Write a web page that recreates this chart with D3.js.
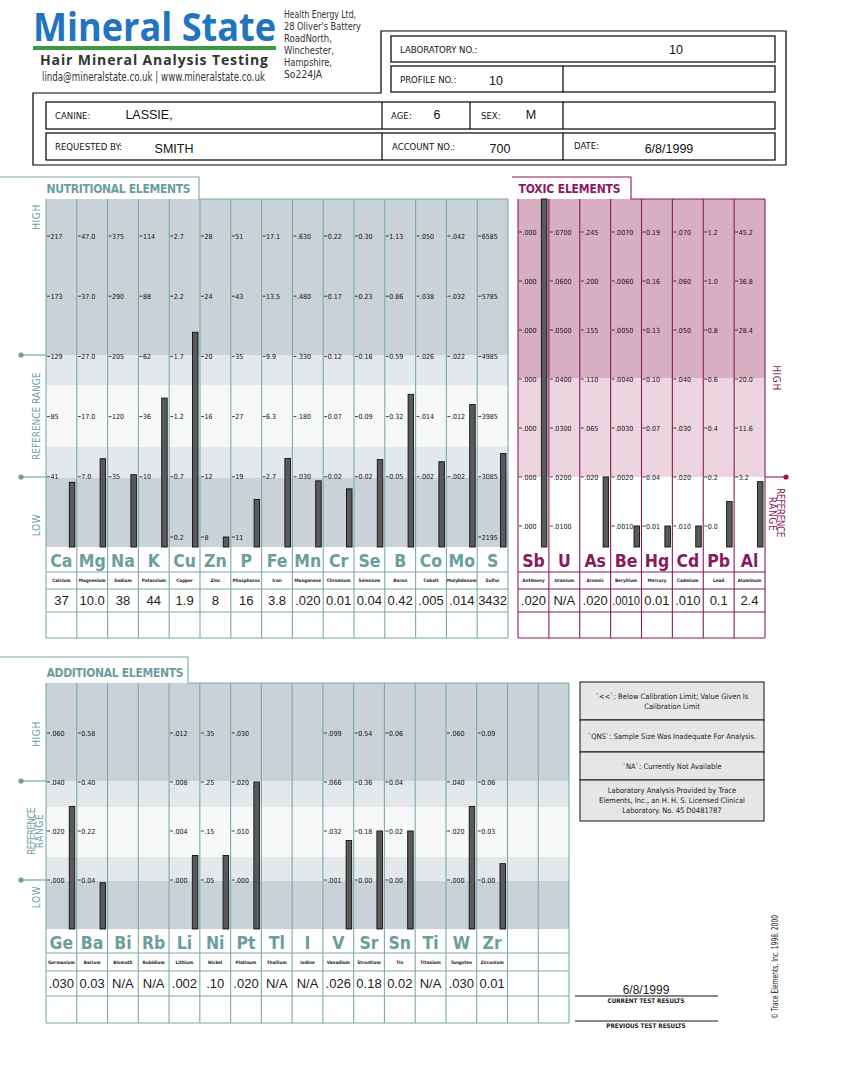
<!DOCTYPE html>
<html lang="en">
<head>
<meta charset="utf-8">
<title>Hair Mineral Analysis</title>
<script src="https://d3js.org/d3.v7.min.js"></script>
<style>
  body { margin: 0; background: #fff; }
  text { font-family: "Liberation Sans Narrow", "DejaVu Sans Condensed", "Liberation Sans", sans-serif; }
</style>
</head>
<body>
<script>
'use strict';

// ---- data ----
var nutriSymbols = ["Ca","Mg","Na","K","Cu","Zn","P","Fe","Mn","Cr","Se","B","Co","Mo","S"];
var nutriNames = ["Calcium","Magnesium","Sodium","Potassium","Copper","Zinc","Phosphorus","Iron",
                  "Manganese","Chromium","Selenium","Boron","Cobalt","Molybdenum","Sulfur"];
var nutriValues = [37, 10.0, 38, 44, 1.9, 8, 16, 3.8, 0.020, 0.01, 0.04, 0.42, 0.005, 0.014, 3432];
var nutriValueLabels = ["37","10.0","38","44","1.9","8","16","3.8",".020","0.01","0.04","0.42",".005",".014","3432"];
// tick labels per column, lowest row first, null = no tick
var nutriTicks = [
  [null,"41","85","129","173","217"],
  [null,"7.0","17.0","27.0","37.0","47.0"],
  [null,"35","120","205","290","375"],
  [null,"10","36","62","88","114"],
  ["0.2","0.7","1.2","1.7","2.2","2.7"],
  ["8","12","16","20","24","28"],
  ["11","19","27","35","43","51"],
  [null,"2.7","6.3","9.9","13.5","17.1"],
  [null,".030",".180",".330",".480",".630"],
  [null,"0.02","0.07","0.12","0.17","0.22"],
  [null,"0.02","0.09","0.16","0.23","0.30"],
  [null,"0.05","0.32","0.59","0.86","1.13"],
  [null,".002",".014",".026",".038",".050"],
  [null,".002",".012",".022",".032",".042"],
  ["2195","3085","3985","4985","5785","6585"]
];

var toxicSymbols = ["Sb","U","As","Be","Hg","Cd","Pb","Al"];
var toxicNames = ["Antimony","Uranium","Arsenic","Beryllium","Mercury","Cadmium","Lead","Aluminum"];
var toxicValues = [0.020, null, 0.020, 0.0010, 0.01, 0.010, 0.1, 2.4];
var toxicValueLabels = [".020","N/A",".020",".0010","0.01",".010","0.1","2.4"];
var toxicTicks = [
  [".000",".000",".000",".000",".000",".000",".000"],
  [".0100",".0200",".0300",".0400",".0500",".0600",".0700"],
  [null,".020",".065",".110",".155",".200",".245"],
  [".0010",".0020",".0030",".0040",".0050",".0060",".0070"],
  ["0.01","0.04","0.07","0.10","0.13","0.16","0.19"],
  [".010",".020",".030",".040",".050",".060",".070"],
  ["0.0","0.2","0.4","0.6","0.8","1.0","1.2"],
  [null,"3.2","11.6","20.0","28.4","36.8","45.2"]
];
// Sb labels are unreadable (".000"); its scale tops out below the result
var sbScaleValues = [0.001, 0.002, 0.003, 0.004, 0.005, 0.006, 0.007];

var addSymbols = ["Ge","Ba","Bi","Rb","Li","Ni","Pt","Tl","I","V","Sr","Sn","Ti","W","Zr","",""];
var addNames = ["Germanium","Barium","Bismuth","Rubidium","Lithium","Nickel","Platinum","Thallium",
                "Iodine","Vanadium","Strontium","Tin","Titanium","Tungsten","Zirconium","",""];
var addValues = [0.030, 0.03, null, null, 0.002, 0.10, 0.020, null, null, 0.026, 0.18, 0.02, null, 0.030, 0.01, null, null];
var addValueLabels = [".030","0.03","N/A","N/A",".002",".10",".020","N/A","N/A",".026","0.18","0.02","N/A",".030","0.01","",""];
var addTicks = [
  [".000",".020",".040",".060"],
  ["0.04","0.22","0.40","0.58"],
  null, null,
  [".000",".004",".008",".012"],
  [".05",".15",".25",".35"],
  [".000",".010",".020",".030"],
  null, null,
  [".001",".032",".066",".099"],
  ["0.00","0.18","0.36","0.54"],
  ["0.00","0.02","0.04","0.06"],
  null,
  [".000",".020",".040",".060"],
  ["0.00","0.03","0.06","0.09"],
  null, null
];

var legendNotes = [
  ["`<<`: Below Calibration Limit; Value Given Is", "Calibration Limit"],
  ["`QNS`: Sample Size Was Inadequate For Analysis."],
  ["`NA`: Currently Not Available"],
  ["Laboratory Analysis Provided by Trace", "Elements, Inc., an H. H. S. Licensed Clinical", "Laboratory.     No. 45 D0481787"]
];

var teal = "#6c9e9c", tealLine = "#7eaaa7";
var plum = "#8a1a5c";

var svg = d3.select("body").append("svg")
    .attr("width", 842).attr("height", 1089);
svg.append("rect").attr("width", 842).attr("height", 1089).attr("fill", "#fff");

// ---- header ----
svg.append("text").attr("x", 33).attr("y", 41).text("Mineral State")
    .style("font-family", "'Open Sans', sans-serif").attr("font-weight", 700)
    .attr("font-size", 40).attr("fill", "#2373c3")
    .attr("textLength", 243).attr("lengthAdjust", "spacingAndGlyphs");
svg.append("rect").attr("x", 33).attr("y", 46).attr("width", 243).attr("height", 4).attr("fill", "#3b9a3f");
svg.append("text").attr("x", 40).attr("y", 65).text("Hair Mineral Analysis Testing")
    .style("font-family", "'Open Sans', sans-serif").attr("font-weight", 700)
    .attr("font-size", 14).attr("fill", "#333")
    .attr("textLength", 228).attr("lengthAdjust", "spacing");
svg.append("text").attr("x", 42).attr("y", 81).text("linda@mineralstate.co.uk | www.mineralstate.co.uk")
    .attr("font-size", 12).attr("fill", "#333")
    .attr("textLength", 223).attr("lengthAdjust", "spacingAndGlyphs");
var address = ["Health Energy Ltd,","28 Oliver's Battery","RoadNorth,","Winchester,","Hampshire,","So224JA"];
var addrWidth = [72, 77, 48, 50, 48, 38];
svg.append("text").attr("font-size", 9.8).attr("fill", "#333")
  .selectAll("tspan").data(address).enter().append("tspan")
    .attr("x", 284)
    .attr("y", function(d, i) { return 17.5 + i * 12.1; })
    .attr("textLength", function(d, i) { return addrWidth[i]; })
    .attr("lengthAdjust", "spacingAndGlyphs")
    .text(function(d) { return d; });

// ---- patient form ----
svg.append("path").attr("d", "M381,31H786V165H33V93H381Z")
    .attr("fill", "none").attr("stroke", "#000").attr("stroke-width", 1.2);
var boxes = [[391,36,384,26],[391,66,384,26],[46,102,729,27],[46,133,729,27]];
svg.selectAll("rect.box").data(boxes).enter().append("rect").attr("class", "box")
    .attr("x", function(d) { return d[0]; }).attr("y", function(d) { return d[1]; })
    .attr("width", function(d) { return d[2]; }).attr("height", function(d) { return d[3]; })
    .attr("fill", "none").attr("stroke", "#000").attr("stroke-width", 1.2);
var dividers = [[563,66,92],[382,102,129],[470,102,129],[563,102,129],[382,133,160],[563,133,160]];
svg.selectAll("line.div").data(dividers).enter().append("line").attr("class", "div")
    .attr("x1", function(d) { return d[0]; }).attr("x2", function(d) { return d[0]; })
    .attr("y1", function(d) { return d[1]; }).attr("y2", function(d) { return d[2]; })
    .attr("stroke", "#000").attr("stroke-width", 1.2);
var formLabels = [["LABORATORY NO.:",400,53],["PROFILE NO.:",400,83],["CANINE:",55,119],["AGE:",391,119],
                  ["SEX:",481,119],["REQUESTED BY:",55,150],["ACCOUNT NO.:",392,150],["DATE:",574,149]];
svg.selectAll("text.flab").data(formLabels).enter().append("text").attr("class", "flab")
    .attr("x", function(d) { return d[1]; }).attr("y", function(d) { return d[2]; })
    .attr("font-size", 9.5).attr("fill", "#111").text(function(d) { return d[0]; });
var formValues = [["10",676,54],["10",496,85],["LASSIE,",149,119],["6",437,119],["M",531,119],
                  ["SMITH",174,153],["700",500,153],["6/8/1999",669,153]];
svg.selectAll("text.fval").data(formValues).enter().append("text").attr("class", "fval")
    .attr("x", function(d) { return d[1]; }).attr("y", function(d) { return d[2]; })
    .attr("text-anchor", "middle")
    .style("font-family", "'Liberation Sans', Arial, sans-serif")
    .attr("font-size", 12.5).attr("fill", "#111").text(function(d) { return d[0]; });

// ---- element panel ----
function drawPanel(c) {
  var g = svg.append("g");
  var n = c.symbols.length;
  var x = d3.scaleBand().domain(d3.range(n)).range([c.x0, c.x1]);
  var bw = x.bandwidth();
  var nRows = c.ticks.find(function(t) { return t; }).length;
  var row = d3.scaleLinear().domain([0, nRows - 1]).range([c.rowBottom, c.rowTop]);

  // background bands
  c.bands.forEach(function(b) {
    g.append("rect").attr("x", c.x0).attr("width", c.x1 - c.x0)
      .attr("y", b[0]).attr("height", b[1] - b[0]).attr("fill", b[2]);
  });

  // ticks and bars per column
  c.symbols.forEach(function(sym, i) {
    var t = c.ticks[i];
    var left = x(i);
    if (t) {
      var dom = [], rng = [];
      t.forEach(function(lab, r) {
        if (lab === null) return;
        dom.push(c.scaleValues && c.scaleValues[i] ? c.scaleValues[i][r] : +lab);
        rng.push(row(r));
        g.append("line").attr("x1", left + 1).attr("x2", left + 4)
          .attr("y1", row(r)).attr("y2", row(r)).attr("stroke", "#111").attr("stroke-width", 0.8);
        g.append("text").attr("x", left + 4.5).attr("y", row(r) + 2.5)
          .attr("font-size", 7).attr("fill", "#111").text(lab);
      });
      var y = d3.scaleLinear().domain(dom).range(rng);
      var v = c.values[i];
      if (v !== null) {
        var yt = Math.max(c.top, y(v));
        g.append("rect").attr("x", left + bw - 7.5).attr("width", 5.5)
          .attr("y", yt).attr("height", c.plotBottom - yt)
          .attr("fill", "#5a5a5a").attr("stroke", "#111").attr("stroke-width", 0.9);
      }
    }
    // table cells
    g.append("text").attr("x", left + bw / 2).attr("y", c.rows[0] + 19.5)
      .attr("text-anchor", "middle").attr("font-weight", 700).attr("font-size", 17.5)
      .attr("fill", c.symColor).text(sym);
    g.append("text").attr("x", left + bw / 2).attr("y", (c.rows[1] + c.rows[2]) / 2 + 1.5)
      .attr("text-anchor", "middle").attr("font-weight", 700).attr("font-size", 4.6)
      .attr("fill", "#222").text(c.names[i]);
    var vt = g.append("text").attr("x", left + bw / 2).attr("y", (c.rows[2] + c.rows[3]) / 2 + 4.5)
      .attr("text-anchor", "middle").attr("font-size", 13)
      .style("font-family", "'Liberation Sans', Arial, sans-serif")
      .attr("fill", "#222").text(c.valueLabels[i]);
    if (c.valueLabels[i].length > 4) vt.attr("textLength", bw - 3).attr("lengthAdjust", "spacingAndGlyphs");
  });

  // grid lines
  var xs = d3.range(n).map(function(i) { return x(i); }).concat([c.x1]);
  g.selectAll("line.col").data(xs).enter().append("line")
    .attr("x1", function(d) { return d; }).attr("x2", function(d) { return d; })
    .attr("y1", c.top).attr("y2", c.rows[4])
    .attr("stroke", c.lineColor).attr("stroke-width", 1.1);
  g.selectAll("line.row").data(c.rows.slice(1)).enter().append("line")
    .attr("x1", c.x0).attr("x2", c.x1)
    .attr("y1", function(d) { return d; }).attr("y2", function(d) { return d; })
    .attr("stroke", c.lineColor).attr("stroke-width", 1.1);

  // title tab
  g.append("path")
    .attr("d", "M" + c.titleLeft + "," + c.titleTop + "H" + c.titleRight + "V" + c.top + "H" + c.x1)
    .attr("fill", "none").attr("stroke", c.lineColor).attr("stroke-width", 1.1);
  g.append("text").attr("x", c.x0 + 0.5).attr("y", c.top - 6).text(c.title)
    .attr("font-weight", 700).attr("font-size", 12).attr("fill", c.symColor)
    .attr("textLength", c.titleWidth).attr("lengthAdjust", "spacing");
}

drawPanel({
  symbols: nutriSymbols, names: nutriNames, values: nutriValues, valueLabels: nutriValueLabels,
  ticks: nutriTicks, x0: 46, x1: 508, top: 199, plotBottom: 547,
  rowBottom: 537, rowTop: 236, rows: [547, 572, 589, 612, 638],
  bands: [[199,355,"#c9d3d7"],[355,385,"#e3e8ea"],[385,447,"#f7f8f8"],[447,478,"#e3e8ea"],[478,547,"#c9d3d7"]],
  symColor: teal, lineColor: tealLine,
  title: "NUTRITIONAL ELEMENTS", titleWidth: 144, titleLeft: 0, titleTop: 177, titleRight: 199
});

drawPanel({
  symbols: toxicSymbols, names: toxicNames, values: toxicValues, valueLabels: toxicValueLabels,
  ticks: toxicTicks, scaleValues: [sbScaleValues], x0: 518, x1: 765, top: 199, plotBottom: 547,
  rowBottom: 526, rowTop: 232, rows: [547, 572, 589, 612, 638],
  bands: [[199,378,"#d8afc0"],[378,477,"#ecd5de"],[477,547,"#ffffff"]],
  symColor: plum, lineColor: plum,
  title: "TOXIC ELEMENTS", titleWidth: 102, titleLeft: 512, titleTop: 177, titleRight: 631
});

drawPanel({
  symbols: addSymbols, names: addNames, values: addValues, valueLabels: addValueLabels,
  ticks: addTicks, x0: 46, x1: 569, top: 683, plotBottom: 929,
  rowBottom: 880, rowTop: 733, rows: [929, 953, 971, 996, 1023],
  bands: [[683,781,"#c9d3d7"],[781,807,"#e3e8ea"],[807,857,"#f7f8f8"],[857,881,"#e3e8ea"],[881,929,"#c9d3d7"]],
  symColor: teal, lineColor: tealLine,
  title: "ADDITIONAL ELEMENTS", titleWidth: 137, titleLeft: 0, titleTop: 657, titleRight: 188
});

// ---- range markers and side labels ----
function marker(x1, x2, y, color) {
  svg.append("line").attr("x1", x1).attr("x2", x2).attr("y1", y).attr("y2", y)
    .attr("stroke", color).attr("stroke-width", 1.1);
  svg.append("circle").attr("cx", x1).attr("cy", y).attr("r", 2.6).attr("fill", color);
}
[355, 477, 781, 880].forEach(function(y) { marker(21, 46, y, teal); });
marker(786, 765, 477, plum);

function sideLabel(txt, x, y, rot, color, len) {
  var t = svg.append("text").attr("transform", "translate(" + x + "," + y + ") rotate(" + rot + ")")
    .attr("text-anchor", "middle").attr("font-size", 10).attr("fill", color)
    .attr("letter-spacing", 0.6).text(txt);
  if (len) t.attr("textLength", len).attr("lengthAdjust", "spacing");
}
sideLabel("HIGH", 40, 217, -90, teal);
sideLabel("REFERENCE RANGE", 40, 416, -90, teal, 88);
sideLabel("LOW", 40, 525, -90, teal);
sideLabel("HIGH", 40, 734, -90, teal);
sideLabel("REFERENCE", 35, 831, -90, teal, 48);
sideLabel("RANGE", 43, 831, -90, teal);
sideLabel("LOW", 40, 897, -90, teal);
sideLabel("HIGH", 773, 378, 90, plum);
sideLabel("REFERENCE", 777, 513, 90, plum, 50);
sideLabel("RANGE", 769, 514, 90, plum);

// ---- legend boxes ----
var noteRows = [682, 720, 752, 780, 821];
legendNotes.forEach(function(lines, i) {
  var y0 = noteRows[i], y1 = noteRows[i + 1];
  svg.append("rect").attr("x", 580).attr("y", y0).attr("width", 184).attr("height", y1 - y0)
    .attr("fill", "#e6e6e6").attr("stroke", "#111").attr("stroke-width", 1);
  var mid = (y0 + y1) / 2;
  lines.forEach(function(l, j) {
    svg.append("text").attr("x", 672).attr("y", mid + (j - (lines.length - 1) / 2) * 10 + 2.5)
      .attr("text-anchor", "middle").attr("font-size", 7.5).attr("fill", "#222").text(l);
  });
});

// ---- footer ----
svg.append("text").attr("x", 646).attr("y", 994).attr("text-anchor", "middle")
  .style("font-family", "'Liberation Sans', Arial, sans-serif")
  .attr("font-size", 12).attr("fill", "#222").text("6/8/1999");
[[996, "CURRENT TEST RESULTS"], [1021, "PREVIOUS TEST RESULTS"]].forEach(function(d) {
  svg.append("line").attr("x1", 575).attr("x2", 718).attr("y1", d[0]).attr("y2", d[0])
    .attr("stroke", "#111").attr("stroke-width", 1);
  svg.append("text").attr("x", 646).attr("y", d[0] + 6.5).attr("text-anchor", "middle")
    .attr("font-weight", 700).attr("font-size", 6.3).attr("fill", "#222").text(d[1]);
});
svg.append("text").attr("transform", "translate(778,967) rotate(-90)")
  .attr("text-anchor", "middle").attr("font-size", 8.5).attr("fill", "#222")
  .attr("textLength", 104).attr("lengthAdjust", "spacingAndGlyphs")
  .text("\u00a9 Trace Elements, Inc. 1998, 2000");
</script>
</body>
</html>
